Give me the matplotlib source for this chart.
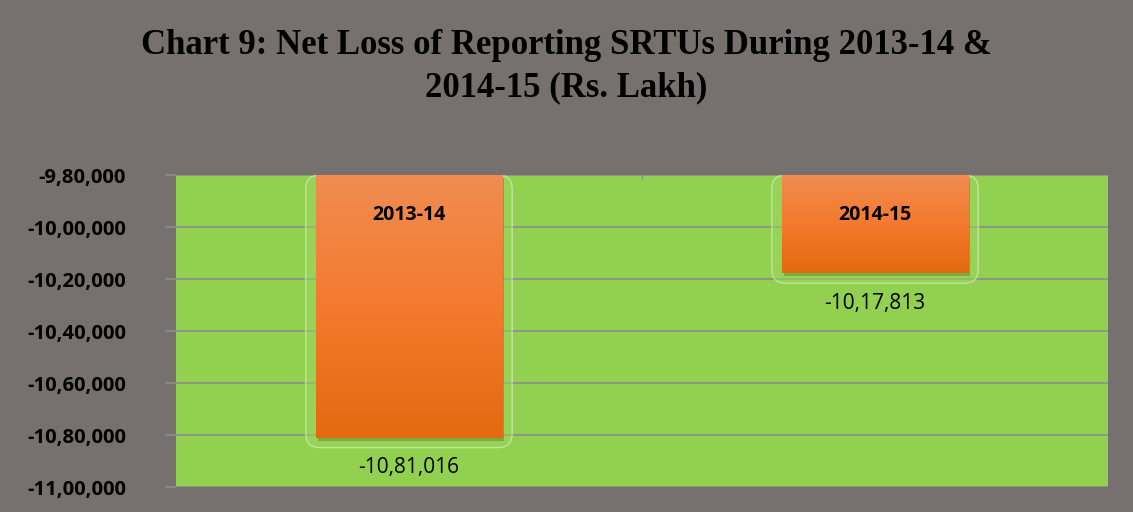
import numpy as np
import matplotlib
matplotlib.use("Agg")
import matplotlib.pyplot as plt
from matplotlib.patches import FancyBboxPatch, Rectangle
from matplotlib.colors import LinearSegmentedColormap
from matplotlib.ticker import FuncFormatter, MultipleLocator

years = ["2013-14", "2014-15"]
net_loss = [-1081016, -1017813]
y_top = -980000
y_bottom = -1100000

BG = "#76716f"
GREEN = "#92d050"


def indian(v, pos=None):
    v = int(round(v))
    sign = "-" if v < 0 else ""
    s = str(abs(v))
    head, tail = s[:-3], s[-3:]
    parts = []
    while len(head) > 2:
        parts.insert(0, head[-2:])
        head = head[:-2]
    if head:
        parts.insert(0, head)
    return sign + ",".join(parts + [tail])


fig = plt.figure(figsize=(11.33, 5.12), dpi=100, facecolor=BG)
ax = fig.add_axes([176 / 1133, 1 - 487 / 512, 932 / 1133, 312 / 512])
ax.set_facecolor(GREEN)

x = np.arange(len(years))
ax.set_xlim(-0.5, 1.5)
ax.set_ylim(y_bottom, y_top)
ax.yaxis.set_major_locator(MultipleLocator(20000))
ax.yaxis.set_major_formatter(FuncFormatter(indian))
ax.grid(axis="y", color="#8c8c8c", lw=1.2, zorder=0)
ax.set_axisbelow(True)
for sp in ax.spines.values():
    sp.set_visible(False)
ax.set_xticks([])
ax.tick_params(axis="y", length=8, color="#8c8c8c", width=1.2, pad=28)
for lab in ax.get_yticklabels():
    lab.set_fontfamily("Open Sans")
    lab.set_fontweight("bold")
    lab.set_fontsize(14.5)
    lab.set_color("black")

# units per pixel
xu = 2.0 / 932
yu = (y_top - y_bottom) / 312
aspect = yu / xu
width = 0.4

grad = np.linspace(0, 1, 256).reshape(-1, 1)
cmap = LinearSegmentedColormap.from_list("org", ["#f08c52", "#f47a2e", "#e4690f"])

for xi, val, yr in zip(x, net_loss, years):
    h = val - y_top
    # soft glow box
    glow = FancyBboxPatch((xi - width / 2 - 10 * xu, val - 10 * yu), width + 20 * xu,
                          (y_top - val) + 10 * yu,
                          boxstyle="round,pad=0,rounding_size=%f" % (14 * xu),
                          mutation_aspect=aspect, fc="#9ad65c", ec="#e8f5dc",
                          lw=1.0, alpha=0.55, zorder=2)
    ax.add_patch(glow)
    # shadow
    ax.add_patch(Rectangle((xi - width / 2 + 2 * xu, val - 3 * yu), width, -h,
                           fc="#4f7d22", alpha=0.45, lw=0, zorder=3))
    bars = ax.bar(xi, h, width=width, bottom=y_top, color="none", lw=0, zorder=4)
    patch = bars[0]
    im = ax.imshow(grad, cmap=cmap, aspect="auto", zorder=4,
                   extent=(xi - width / 2, xi + width / 2, val, y_top))
    im.set_clip_path(patch)
    ax.text(xi, y_top - 40 * yu, yr, ha="center", va="center", fontsize=14,
            fontweight="bold", fontfamily="Open Sans", zorder=5)
    ax.text(xi, val - 30 * yu, indian(val), ha="center", va="center", fontsize=15,
            fontfamily="Open Sans", zorder=5)

ax.set_xlim(-0.5, 1.5)
ax.set_ylim(y_bottom, y_top)

# category divider tick at top
ax.plot([0.5, 0.5], [y_top, y_top - 3 * yu], color="#8c8c8c", lw=1, zorder=1)

fig.text(0.5, 1 - 45 / 512, "Chart 9: Net Loss of Reporting SRTUs During 2013-14 &",
         ha="center", va="center", fontsize=25, fontweight="bold",
         fontfamily="Liberation Serif")
fig.text(0.5, 1 - 88 / 512, "2014-15 (Rs. Lakh)",
         ha="center", va="center", fontsize=25, fontweight="bold",
         fontfamily="Liberation Serif")

fig.savefig("out.png", dpi=100, facecolor=BG)
